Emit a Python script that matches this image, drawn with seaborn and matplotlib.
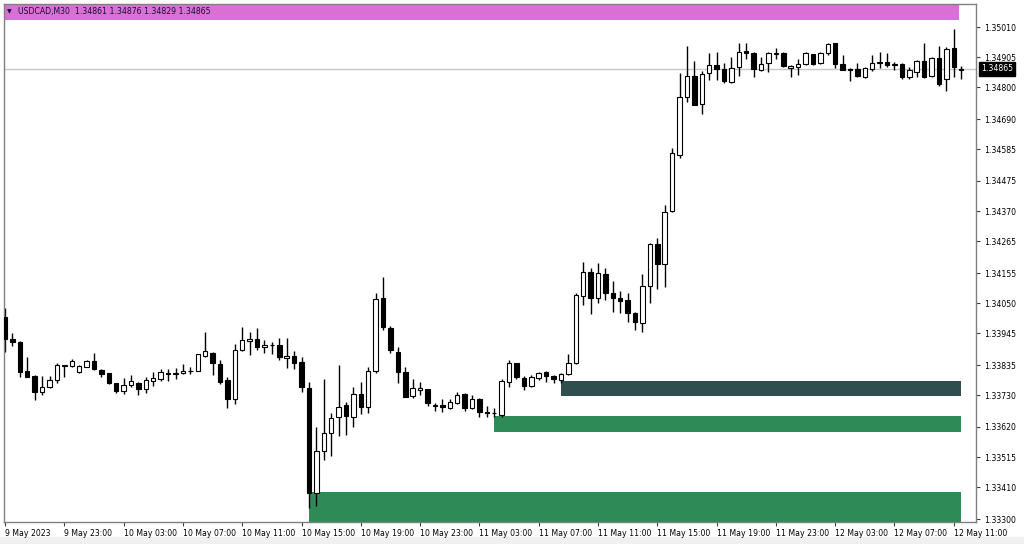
import numpy as np
import pandas as pd
import matplotlib
matplotlib.use("Agg")
import matplotlib.pyplot as plt
import seaborn as sns
from matplotlib.patches import Rectangle

# USDCAD M30 candles (9 May 19:00 .. 12 May 11:30)
opens = [1.34003, 1.33927, 1.33916, 1.33814, 1.33797, 1.33743, 1.33760, 1.33783, 1.33832, 1.33832,
         1.33811, 1.33829, 1.33850, 1.33818, 1.33806, 1.33772, 1.33746, 1.33765, 1.33774, 1.33751,
         1.33781, 1.33786, 1.33809, 1.33805, 1.33806, 1.33813, 1.33814, 1.33867, 1.33878, 1.33839,
         1.33783, 1.33716, 1.33887, 1.33918, 1.33925, 1.33897, 1.33905, 1.33905, 1.33859, 1.33867,
         1.33845, 1.33754, 1.33391, 1.33537, 1.33600, 1.33654, 1.33696, 1.33654, 1.33733, 1.33688,
         1.33815, 1.34067, 1.33965, 1.33882, 1.33810, 1.33728, 1.33748, 1.33751, 1.33694, 1.33696,
         1.33687, 1.33702, 1.33733, 1.33687, 1.33716, 1.33673, 1.33667, 1.33661, 1.33777, 1.33841,
         1.33791, 1.33762, 1.33789, 1.33810, 1.33797, 1.33783, 1.33804, 1.33841, 1.34076, 1.34157,
         1.34067, 1.34151, 1.34085, 1.34067, 1.34061, 1.34017, 1.33980, 1.34111, 1.34255, 1.34186,
         1.34372, 1.34565, 1.34768, 1.34840, 1.34743, 1.34849, 1.34878, 1.34863, 1.34820, 1.34870,
         1.34927, 1.34921, 1.34861, 1.34884, 1.34918, 1.34921, 1.34869, 1.34872, 1.34880, 1.34916,
         1.34884, 1.34919, 1.34954, 1.34882, 1.34863, 1.34863, 1.34835, 1.34863, 1.34890, 1.34890,
         1.34880, 1.34882, 1.34837, 1.34855, 1.34893, 1.34840, 1.34901, 1.34828, 1.34936, 1.34861]
highs = [1.34032, 1.33946, 1.33920, 1.33862, 1.33800, 1.33797, 1.33797, 1.33841, 1.33837, 1.33855,
         1.33835, 1.33853, 1.33876, 1.33820, 1.33809, 1.33774, 1.33791, 1.33801, 1.33777, 1.33793,
         1.33812, 1.33822, 1.33822, 1.33824, 1.33839, 1.33827, 1.33873, 1.33949, 1.33882, 1.33853,
         1.33793, 1.33907, 1.33968, 1.33951, 1.33963, 1.33922, 1.33916, 1.33930, 1.33928, 1.33885,
         1.33864, 1.33775, 1.33621, 1.33787, 1.33670, 1.33834, 1.33708, 1.33758, 1.33775, 1.33827,
         1.34085, 1.34140, 1.33971, 1.33897, 1.33829, 1.33787, 1.33775, 1.33753, 1.33702, 1.33716,
         1.33716, 1.33743, 1.33737, 1.33731, 1.33720, 1.33693, 1.33685, 1.33786, 1.33853, 1.33843,
         1.33797, 1.33801, 1.33812, 1.33814, 1.33801, 1.33809, 1.33872, 1.34085, 1.34194, 1.34171,
         1.34191, 1.34171, 1.34128, 1.34094, 1.34087, 1.34021, 1.34152, 1.34258, 1.34278, 1.34391,
         1.34589, 1.34849, 1.34944, 1.34892, 1.34857, 1.34921, 1.34924, 1.34886, 1.34907, 1.34954,
         1.34954, 1.34923, 1.34907, 1.34924, 1.34936, 1.34923, 1.34878, 1.34898, 1.34923, 1.34918,
         1.34924, 1.34956, 1.34956, 1.34913, 1.34867, 1.34886, 1.34872, 1.34913, 1.34924, 1.34919,
         1.34890, 1.34884, 1.34870, 1.34895, 1.34956, 1.34905, 1.34944, 1.34942, 1.35002, 1.34876]
lows = [1.33882, 1.33901, 1.33795, 1.33793, 1.33714, 1.33731, 1.33754, 1.33772, 1.33795, 1.33827,
        1.33809, 1.33827, 1.33818, 1.33793, 1.33769, 1.33739, 1.33733, 1.33760, 1.33731, 1.33737,
        1.33762, 1.33781, 1.33781, 1.33786, 1.33803, 1.33803, 1.33813, 1.33862, 1.33801, 1.33769,
        1.33685, 1.33700, 1.33884, 1.33871, 1.33887, 1.33876, 1.33874, 1.33853, 1.33824, 1.33820,
        1.33743, 1.33337, 1.33345, 1.33505, 1.33519, 1.33589, 1.33592, 1.33621, 1.33665, 1.33670,
        1.33809, 1.33957, 1.33876, 1.33774, 1.33723, 1.33720, 1.33731, 1.33694, 1.33676, 1.33673,
        1.33682, 1.33700, 1.33676, 1.33682, 1.33656, 1.33656, 1.33656, 1.33656, 1.33758, 1.33786,
        1.33748, 1.33760, 1.33783, 1.33777, 1.33772, 1.33774, 1.33801, 1.33839, 1.34044, 1.34013,
        1.34050, 1.34061, 1.34021, 1.34015, 1.33986, 1.33957, 1.33951, 1.34050, 1.34098, 1.34107,
        1.34368, 1.34554, 1.34751, 1.34739, 1.34707, 1.34826, 1.34826, 1.34817, 1.34814, 1.34840,
        1.34898, 1.34835, 1.34858, 1.34855, 1.34898, 1.34872, 1.34835, 1.34843, 1.34878, 1.34878,
        1.34880, 1.34913, 1.34869, 1.34861, 1.34822, 1.34835, 1.34832, 1.34858, 1.34867, 1.34872,
        1.34861, 1.34828, 1.34828, 1.34835, 1.34832, 1.34835, 1.34806, 1.34789, 1.34837, 1.34829]
closes = [1.33925, 1.33916, 1.33812, 1.33795, 1.33743, 1.33760, 1.33783, 1.33834, 1.33835, 1.33850,
          1.33832, 1.33850, 1.33820, 1.33804, 1.33774, 1.33745, 1.33765, 1.33779, 1.33751, 1.33783,
          1.33789, 1.33811, 1.33803, 1.33806, 1.33814, 1.33814, 1.33872, 1.33884, 1.33843, 1.33777,
          1.33716, 1.33887, 1.33921, 1.33925, 1.33899, 1.33905, 1.33904, 1.33862, 1.33866, 1.33843,
          1.33760, 1.33391, 1.33537, 1.33600, 1.33650, 1.33690, 1.33658, 1.33733, 1.33690, 1.33814,
          1.34064, 1.33968, 1.33887, 1.33812, 1.33725, 1.33754, 1.33754, 1.33702, 1.33695, 1.33690,
          1.33708, 1.33731, 1.33687, 1.33716, 1.33673, 1.33667, 1.33668, 1.33780, 1.33843, 1.33793,
          1.33762, 1.33793, 1.33806, 1.33798, 1.33786, 1.33803, 1.33843, 1.34079, 1.34157, 1.34067,
          1.34154, 1.34087, 1.34067, 1.34059, 1.34015, 1.33986, 1.34111, 1.34256, 1.34186, 1.34368,
          1.34571, 1.34768, 1.34840, 1.34739, 1.34847, 1.34878, 1.34863, 1.34824, 1.34869, 1.34924,
          1.34921, 1.34863, 1.34882, 1.34919, 1.34919, 1.34876, 1.34876, 1.34882, 1.34921, 1.34880,
          1.34919, 1.34950, 1.34880, 1.34861, 1.34862, 1.34840, 1.34867, 1.34886, 1.34884, 1.34878,
          1.34879, 1.34835, 1.34861, 1.34893, 1.34835, 1.34901, 1.34812, 1.34933, 1.34870, 1.34865]

time_labels = ["9 May 2023", "9 May 23:00", "10 May 03:00", "10 May 07:00", "10 May 11:00",
               "10 May 15:00", "10 May 19:00", "10 May 23:00", "11 May 03:00", "11 May 07:00",
               "11 May 11:00", "11 May 15:00", "11 May 19:00", "11 May 23:00", "12 May 03:00",
               "12 May 07:00", "12 May 11:00"]
price_ticks = [1.35010, 1.34905, 1.34800, 1.34690, 1.34585, 1.34475, 1.34370, 1.34265, 1.34155,
               1.34050, 1.33945, 1.33835, 1.33730, 1.33620, 1.33515, 1.33410, 1.33300]

symbol = "USDCAD,M30"

# supply / demand boxes: first bar, top price, bottom price
zone_start = [41, 66, 75]
zone_top = [1.33394, 1.33659, 1.33780]
zone_bottom = [1.33290, 1.33601, 1.33728]
zone_color = ["#2E8B57", "#2E8B57", "#2F4F4F"]
band_bottom = 1.35034  # pink band at the top

df = pd.DataFrame({"open": opens, "high": highs, "low": lows, "close": closes})
df["bar"] = np.arange(len(df))
df["up"] = df["close"] >= df["open"]
last = df.iloc[-1]

sns.set_theme(style="white")
plt.rcParams["font.family"] = ["DejaVu Sans"]
fs = 5.6

W, H = 1024, 544
fig = plt.figure(figsize=(W / 100, H / 100), dpi=100)
fig.patch.set_facecolor("white")
ax = fig.add_axes([4 / W, 22 / H, 972 / W, 518 / H])

x_left, x_right = -0.14, 131.0
y_low, y_high = 1.332896, 1.350901
ax.set_xlim(x_left, x_right)
ax.set_ylim(y_low, y_high)

# boxes
end_bar = df["bar"].iloc[-1]
for s, t, b, c in zip(zone_start, zone_top, zone_bottom, zone_color):
    ax.add_patch(Rectangle((s, b), end_bar - s, t - b, color=c, lw=0, zorder=1))
ax.add_patch(Rectangle((x_left, band_bottom), end_bar - 0.3 - x_left, y_high - band_bottom,
                       color="#DA70D6", lw=0, zorder=1))

# last price line
ax.axhline(last["close"], color="#C8C8C8", lw=1, zorder=0.5)

# candles
ax.vlines(df["bar"], df["low"], df["high"], color="black", lw=1, zorder=2)
body_low = df[["open", "close"]].min(axis=1)
body_h = (df["close"] - df["open"]).abs().clip(lower=1e-7)
ax.bar(df["bar"], body_h, bottom=body_low, width=0.6,
       color=np.where(df["up"], "white", "black"), edgecolor="black", linewidth=0.8, zorder=3)

# axes styling
for sp in ax.spines.values():
    sp.set_color("#808080")
    sp.set_linewidth(1)

ax.yaxis.tick_right()
ax.set_yticks(price_ticks)
ax.set_yticklabels([f"{p:.5f}" for p in price_ticks])
ax.tick_params(axis="y", which="both", right=True, length=3, width=0.8, color="#404040",
               labelsize=fs, pad=3, labelcolor="black")

ax.set_xticks(np.arange(0, len(time_labels) * 8, 8))
ax.set_xticklabels(time_labels, ha="left")
ax.tick_params(axis="x", which="both", bottom=True, length=3, width=0.8, color="#404040",
               labelsize=fs, pad=2, labelcolor="black")

# current price label
ax.annotate(f"{last['close']:.5f}", xy=(1, last["close"]), xycoords=("axes fraction", "data"),
            xytext=(5, 0), textcoords="offset pixels", ha="left", va="center",
            fontsize=fs, color="white",
            bbox=dict(boxstyle="square,pad=0.3", fc="black", ec="black"))

# header with the last bar
header = (f"{symbol}  {last['open']:.5f} {last['high']:.5f} "
          f"{last['low']:.5f} {last['close']:.5f}")
fig.text(7 / W, 1 - 11.5 / H, "\u25BC", fontsize=4.5, color="#111133", va="center")
fig.text(18 / W, 1 - 11.5 / H, header, fontsize=fs, color="#111133", va="center")

# window chrome
fig.patches.append(Rectangle((0, 0), 1, 7 / H, transform=fig.transFigure,
                             color="#F0F0F0", zorder=-1))

fig.savefig("out.png", dpi=100)
